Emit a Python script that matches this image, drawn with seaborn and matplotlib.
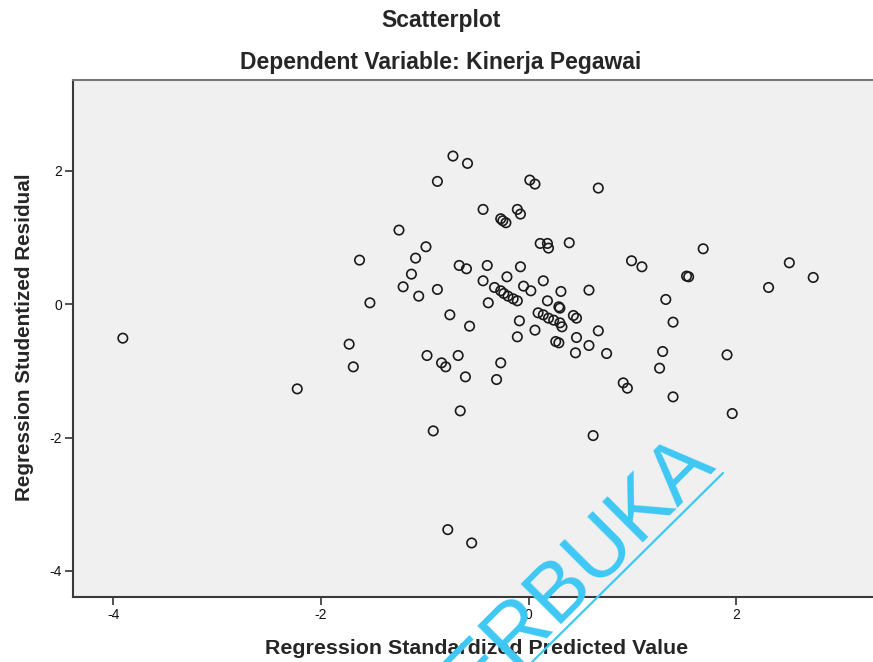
import numpy as np
import pandas as pd
import matplotlib
matplotlib.use("Agg")
import matplotlib.pyplot as plt
import seaborn as sns
from matplotlib.lines import Line2D

# Data
pred = [-3.91, -2.23, -1.73, -1.69, -1.63, -1.53, -1.25, -1.21, -1.13, -1.09,
        -1.06, -0.99, -0.98, -0.92, -0.88, -0.88, -0.84, -0.80, -0.78, -0.76,
        -0.73, -0.68, -0.67, -0.66, -0.61, -0.60, -0.59, -0.57, -0.55, -0.44,
        -0.44, -0.40, -0.39, -0.33, -0.31, -0.27, -0.24, -0.20, -0.15, -0.11,
        -0.27, -0.25, -0.22, -0.27, -0.21, -0.11, -0.08, -0.11, -0.09, -0.08,
        -0.05, 0.01, 0.06, 0.02, 0.06, 0.11, 0.18, 0.19, 0.14, 0.18,
        0.09, 0.14, 0.19, 0.24, 0.29, 0.30, 0.30, 0.32, 0.26, 0.29,
        0.31, 0.39, 0.43, 0.46, 0.45, 0.46, 0.58, 0.58, 0.62, 0.67,
        0.67, 0.75, 0.91, 0.95, 0.99, 1.09, 1.26, 1.29, 1.32, 1.39,
        1.39, 1.52, 1.54, 1.68, 1.91, 1.96, 2.31, 2.51, 2.74]
resid = [-0.51, -1.27, -0.60, -0.94, 0.66, 0.02, 1.11, 0.26, 0.45, 0.69,
         0.12, 0.86, -0.77, -1.90, 1.84, 0.22, -0.88, -0.94, -3.38, -0.16,
         2.22, -0.77, 0.58, -1.60, -1.09, 0.53, 2.11, -0.33, -3.58, 1.42,
         0.35, 0.58, 0.02, 0.25, -1.13, 0.20, 0.16, 0.12, 0.08, 0.05,
         1.28, 1.25, 1.22, -0.88, 0.41, 1.42, 1.35, -0.49, -0.25, 0.56,
         0.27, 1.86, 1.80, 0.20, -0.39, 0.91, 0.91, 0.84, 0.35, 0.05,
         -0.13, -0.16, -0.21, -0.24, -0.04, -0.06, -0.28, -0.34, -0.56, -0.58,
         0.19, 0.92, -0.17, -0.21, -0.73, -0.50, 0.21, -0.62, -1.97, -0.40,
         1.74, -0.74, -1.18, -1.26, 0.65, 0.56, -0.96, -0.71, 0.07, -0.27,
         -1.39, 0.42, 0.41, 0.83, -0.76, -1.64, 0.25, 0.62, 0.40]
x_ticks = [-4, -2, 0, 2]
y_ticks = [-4, -2, 0, 2]

df = pd.DataFrame({"pred": pred, "resid": resid})

sns.set_style("white", {"axes.facecolor": "#F0F0F0"})
plt.rcParams["font.family"] = ["Liberation Sans", "DejaVu Sans"]

fig = plt.figure(figsize=(8.73, 6.62), dpi=100)
ax = fig.add_axes([73 / 873, 1 - 597 / 662, 1 - 73 / 873 + 0.01, (597 - 80) / 662])

sns.scatterplot(data=df, x="pred", y="resid", ax=ax, marker="o", s=46,
                facecolor="none", edgecolor="#1a1a1a", linewidth=1.2, legend=False)

ax.set_xlim(-4.39, 3.40)
ax.set_ylim(-4.39, 3.36)
ax.set_xticks(x_ticks)
ax.set_yticks(y_ticks)
ax.set_xticklabels([str(v) for v in x_ticks], fontsize=10)
ax.set_yticklabels([str(v) for v in y_ticks], fontsize=10)
ax.tick_params(axis="both", direction="out", length=6, width=1.2, color="#333333",
               labelcolor="#111111", pad=2)
ax.tick_params(axis="x", bottom=True)
ax.tick_params(axis="y", left=True)
for side in ["left", "bottom", "top"]:
    ax.spines[side].set_visible(True)
    ax.spines[side].set_color("#3a3a3a")
    ax.spines[side].set_linewidth(1.5)
ax.spines["top"].set_color("#777777")
ax.spines["right"].set_visible(False)
ax.set_xlabel("")
ax.set_ylabel("")

fig.text(441 / 873, 1 - 20 / 662, "Scatterplot", ha="center", va="center",
         fontsize=16.5, fontweight="bold")
fig.text(441 / 873, 1 - 62 / 662, "Dependent Variable: Kinerja Pegawai", ha="center",
         va="center", fontsize=16.5, fontweight="bold")
fig.text(477 / 873, 1 - 648 / 662, "Regression Standardized Predicted Value",
         ha="center", va="center", fontsize=15.4, fontweight="bold")
fig.text(25 / 873, 1 - 337 / 662, "Regression Studentized Residual", ha="center",
         va="center", rotation=90, fontsize=14.9, fontweight="bold")

# watermark
wm = "#3EC8F4"
fig.text(578 / 873, 1 - 606 / 662, "TERBUKA", ha="center", va="baseline",
         rotation=45, rotation_mode="anchor", fontsize=60, color=wm,
         fontweight="normal", zorder=10)
fig.add_artist(Line2D([532 / 873, 723 / 873], [0.0, 1 - 473 / 662],
                      transform=fig.transFigure, color=wm, lw=1.6, zorder=10))

fig.savefig("out.png", dpi=100)
